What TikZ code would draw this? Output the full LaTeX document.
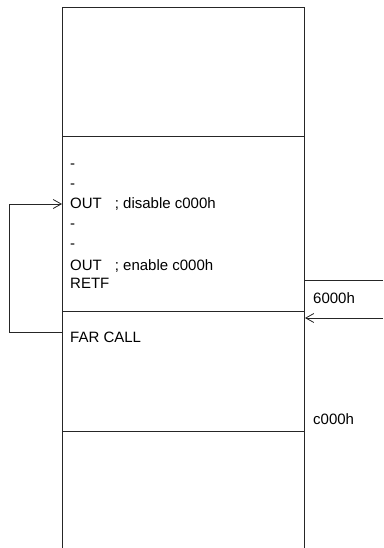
\documentclass[tikz,border=0pt]{standalone}
\usepackage{fontspec}
\setmainfont{Liberation Sans}
\usetikzlibrary{arrows.meta,positioning}
\tikzset{>={Straight Barb[length=8pt,width=9pt]},line width=.8pt,
  every node/.style={font=\fontsize{15}{18}\selectfont},
  memline/.style={draw=black!85,line width=.8pt},
  flow/.style={->,draw=black!85,line width=.8pt},
  code/.style={anchor=base west,inner sep=0pt},
  addr/.style={anchor=base west,inner sep=0pt}}
\begin{document}
\begin{tikzpicture}[x=1pt,y=-1pt]
\path[use as bounding box] (0,0) rectangle (383,548);
% memory column
\draw[memline] (62,548)--(62,7)--(304,7)--(304,548);
\draw[memline] (62,136)--(304,136);\draw[memline] (62,311)--(304,311);\draw[memline] (62,431)--(304,431);
\draw[memline] (304,280)--(383,280);
% routine in the 6000h segment
\node[code] (d1) at (70,168) {-};\node[code] (d2) at (70,188) {-};
\node[code] (out1) at (70,208) {OUT\hspace{13pt}; disable c000h};
\node[code] (d3) at (70,228) {-};\node[code] (d4) at (70,248) {-};
\node[code] (out2) at (70,270) {OUT\hspace{13pt}; enable c000h};
\node[code] (retf) at (70,288) {RETF};
\node[code] (call) at (70,342) {FAR CALL};
\node[addr] (a6000) at (313,303) {6000h};\node[addr] (ac000) at (313,424) {c000h};
% connectors
\coordinate (callpt) at (62,332);\coordinate (entry) at (62,204);
\draw[flow] (callpt) -- ++(-53,0) |- (entry);
\coordinate (ext) at (383,318);\coordinate (ret) at (305,318);
\draw[flow] (ext) -- (ret);
\end{tikzpicture}
\end{document}
